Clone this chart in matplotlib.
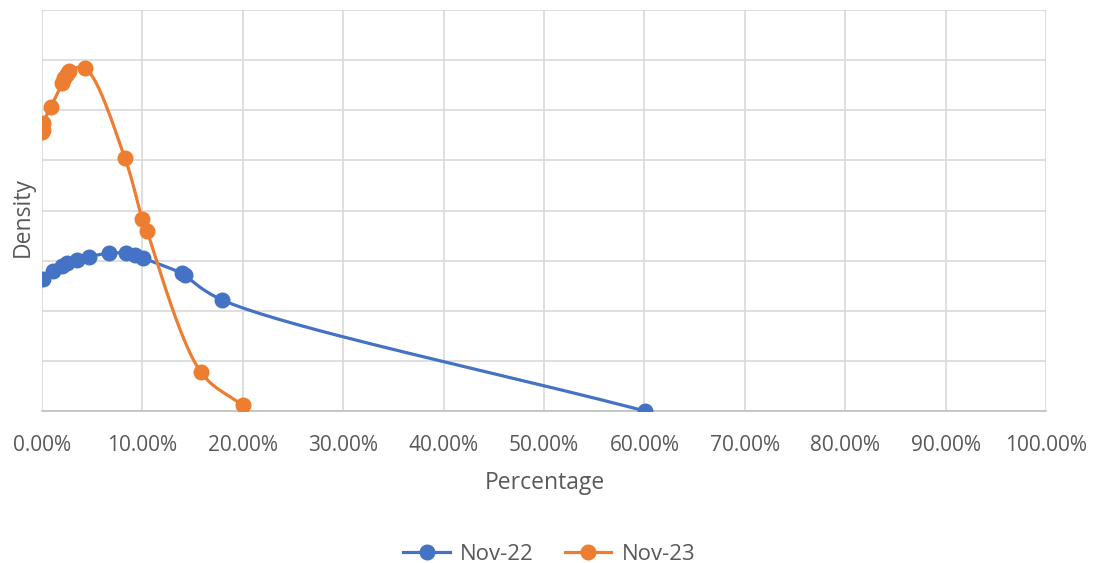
import numpy as np
import matplotlib.pyplot as plt
from matplotlib.ticker import PercentFormatter, MultipleLocator

plt.rcParams['font.family'] = ['Open Sans', 'DejaVu Sans']

# Nov-22 series (share, density in gridline units)
nov22_x = [0.0007, 0.0113, 0.0196, 0.0246, 0.0345, 0.0471, 0.067, 0.0837, 0.0926, 0.1009, 0.1391, 0.1420, 0.179, 0.6006]
nov22_y = [2.63, 2.80, 2.90, 2.95, 3.01, 3.08, 3.15, 3.15, 3.11, 3.05, 2.75, 2.71, 2.22, 0.0]

# Nov-23 series
nov23_x = [0.0003, 0.0005, 0.0013, 0.0087, 0.0204, 0.0219, 0.0246, 0.0269, 0.0428, 0.0827, 0.0999, 0.1043, 0.1584, 0.1999]
nov23_y = [5.57, 5.61, 5.74, 6.07, 6.55, 6.65, 6.73, 6.79, 6.84, 5.04, 3.83, 3.60, 0.77, 0.11]

labels = ['Nov-22', 'Nov-23']
colors = ['#4472C4', '#ED7D31']

XS, YS = 1004.0, 50.1   # pixel scale of the axes, used only for the smoothing


def smooth(xs, ys, n=40):
    # centripetal catmull-rom through the points (close to Excel's smoothed line)
    P = np.column_stack([np.asarray(xs) * XS, np.asarray(ys) * YS])
    P = np.vstack([2 * P[0] - P[1], P, 2 * P[-1] - P[-2]])
    out = []
    for i in range(1, len(P) - 2):
        p0, p1, p2, p3 = P[i - 1], P[i], P[i + 1], P[i + 2]
        t0 = 0.0
        t1 = t0 + max(np.linalg.norm(p1 - p0), 1e-6) ** 0.5
        t2 = t1 + max(np.linalg.norm(p2 - p1), 1e-6) ** 0.5
        t3 = t2 + max(np.linalg.norm(p3 - p2), 1e-6) ** 0.5
        t = np.linspace(t1, t2, n)[:, None]
        a1 = (t1 - t) / (t1 - t0) * p0 + (t - t0) / (t1 - t0) * p1
        a2 = (t2 - t) / (t2 - t1) * p1 + (t - t1) / (t2 - t1) * p2
        a3 = (t3 - t) / (t3 - t2) * p2 + (t - t2) / (t3 - t2) * p3
        b1 = (t2 - t) / (t2 - t0) * a1 + (t - t0) / (t2 - t0) * a2
        b2 = (t3 - t) / (t3 - t1) * a2 + (t - t1) / (t3 - t1) * a3
        c = (t2 - t) / (t2 - t1) * b1 + (t - t1) / (t2 - t1) * b2
        out.append(c)
    out = np.vstack(out)
    return out[:, 0] / XS, out[:, 1] / YS


fig = plt.figure(figsize=(10.94, 5.63), dpi=100)
ax = fig.add_axes([0.0384, 0.270, 0.9177, 0.712])

for xs, ys, lab, c in [(nov22_x, nov22_y, labels[0], colors[0]), (nov23_x, nov23_y, labels[1], colors[1])]:
    sx, sy = smooth(xs, ys)
    ax.plot(sx, sy, color=c, lw=2.3, solid_capstyle='round', zorder=3)
    ax.plot(xs, ys, 'o', color=c, ms=10.5, zorder=4)
    ax.plot([], [], '-o', color=c, lw=2.3, ms=10.5, label=lab)

ax.set_xlim(0, 1)
ax.set_ylim(0, 8)
ax.xaxis.set_major_locator(MultipleLocator(0.1))
ax.xaxis.set_major_formatter(PercentFormatter(1.0, decimals=2))
ax.yaxis.set_major_locator(MultipleLocator(1))
ax.set_yticklabels([])
ax.tick_params(axis='both', length=0, colors='#595959', labelsize=15)
ax.tick_params(axis='x', pad=17)
ax.grid(True, color='#d9d9d9', lw=1.2)
ax.set_axisbelow(True)
for s in ['top', 'right', 'left']:
    ax.spines[s].set_visible(False)
ax.spines['bottom'].set_color('#bfbfbf')
ax.spines['bottom'].set_linewidth(1.2)

ax.set_xlabel('Percentage', fontsize=16.5, color='#595959', va='center')
ax.xaxis.set_label_coords(0.501, -0.18)
ax.set_ylabel('Density', fontsize=16.5, color='#595959', va='center')
ax.yaxis.set_label_coords(-0.019, 0.484)

fig.legend(loc='center', bbox_to_anchor=(0.502, 0.015), ncol=2, frameon=False,
           fontsize=16, handlelength=2.1, handletextpad=0.45, columnspacing=1.4,
           labelcolor='#595959')

fig.savefig('out.png', dpi=100)
